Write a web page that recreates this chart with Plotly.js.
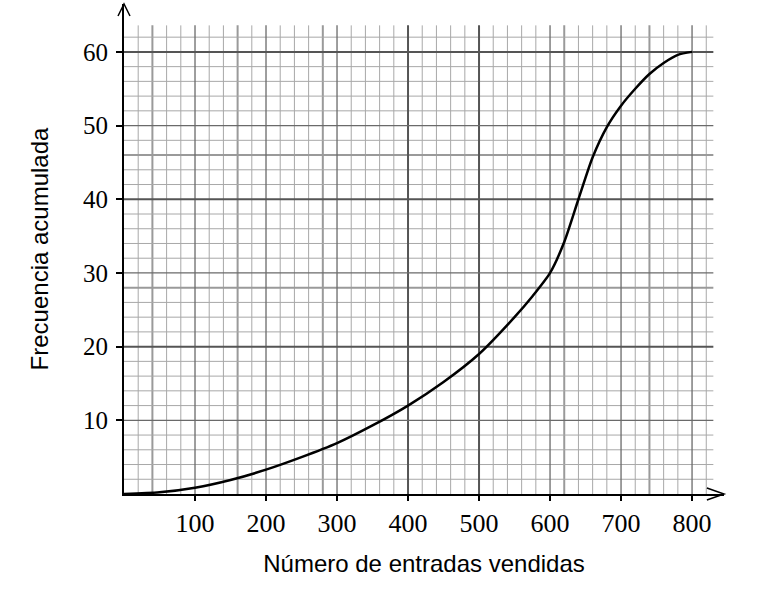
<!DOCTYPE html>
<html>
<head>
<meta charset="utf-8">
<script src="https://cdn.plot.ly/plotly-3.0.1.min.js"></script>
<style>html,body{margin:0;padding:0;background:#fff;}#chart{width:760px;height:590px;}</style>
</head>
<body>
<div id="chart"></div>
<script>
// Data
var entradas = [0, 50, 100, 150, 200, 250, 300, 350, 400, 450, 500, 550, 575, 600, 620, 640, 660, 680, 700, 720, 740, 760, 780, 800];
var frecuencia = [0, 0.23, 0.85, 1.9, 3.3, 5.0, 6.9, 9.3, 12, 15.2, 19, 24, 26.8, 30, 34.2, 40, 45.7, 49.8, 52.7, 55, 57, 58.5, 59.6, 60];
var xTickVals = [100, 200, 300, 400, 500, 600, 700, 800];
var xTickText = ['100', '200', '300', '400', '500', '600', '700', '800'];
var yTickVals = [10, 20, 30, 40, 50, 60];
var yTickText = ['10', '20', '30', '40', '50', '60'];

var xMax = 845, yMax = 66.5;
var gridXEnd = 830, gridYEnd = 63.6;
var marginL = 124, marginR = 36, marginT = 4, marginB = 96;
var plotW = 760 - marginL - marginR, plotH = 590 - marginT - marginB;

var shapes = [];
// minor grid
for (var gx = 20; gx < gridXEnd; gx += 20) {
  if (gx % 100 === 0) continue;
  var thick = [40, 160, 280, 620, 740].indexOf(gx) >= 0;
  shapes.push({type: 'line', xref: 'x', yref: 'y', x0: gx, x1: gx, y0: 0, y1: gridYEnd, layer: 'below',
    line: {color: thick ? '#9a9a9a' : '#a8a8a8', width: thick ? 2 : 1}});
}
for (var gy = 2; gy < gridYEnd; gy += 2) {
  if (gy % 10 === 0) continue;
  var thickY = [28, 46].indexOf(gy) >= 0;
  shapes.push({type: 'line', xref: 'x', yref: 'y', x0: 0, x1: gridXEnd, y0: gy, y1: gy, layer: 'below',
    line: {color: thickY ? '#9a9a9a' : '#a8a8a8', width: thickY ? 2 : 1}});
}
// major grid
xTickVals.forEach(function (v) {
  var strong = (v === 400 || v === 500);
  shapes.push({type: 'line', xref: 'x', yref: 'y', x0: v, x1: v, y0: 0, y1: gridYEnd, layer: 'below',
    line: {color: strong ? '#555' : '#6a6a6a', width: strong ? 2 : 1.3}});
});
yTickVals.forEach(function (v) {
  var strong = (v === 20 || v === 40 || v === 60);
  shapes.push({type: 'line', xref: 'x', yref: 'y', x0: 0, x1: gridXEnd, y0: v, y1: v, layer: 'below',
    line: {color: strong ? '#555' : '#6a6a6a', width: strong ? 2 : 1.3}});
});
// arrow heads (paper coords)
var ax = 9 / plotW, ay = 6 / plotH;
shapes.push({type: 'path', xref: 'paper', yref: 'paper',
  path: 'M ' + (1 - ax * 1.9) + ' ' + ay + ' L 1 0 L ' + (1 - ax * 1.9) + ' ' + (-ay),
  line: {color: 'black', width: 1.5}});
var bx = 6 / plotW, by = 12 / plotH;
shapes.push({type: 'path', xref: 'paper', yref: 'paper',
  path: 'M ' + (-bx) + ' ' + (1 - by) + ' L 0 1 L ' + bx + ' ' + (1 - by),
  line: {color: 'black', width: 1.5}});

var trace = {
  x: entradas, y: frecuencia, type: 'scatter', mode: 'lines',
  line: {color: 'black', width: 2.5, shape: 'spline', smoothing: 0.7},
  hoverinfo: 'x+y', showlegend: false, cliponaxis: false
};

var layout = {
  width: 760, height: 590,
  margin: {l: marginL, r: marginR, t: marginT, b: marginB},
  paper_bgcolor: 'white', plot_bgcolor: 'white',
  showlegend: false,
  xaxis: {
    range: [0, xMax], showgrid: false, zeroline: false,
    showline: true, linecolor: 'black', linewidth: 2,
    ticks: 'outside', ticklen: 5, tickwidth: 1.5, tickcolor: 'black',
    tickvals: xTickVals, ticktext: xTickText,
    tickfont: {family: 'Liberation Serif, Times New Roman, serif', size: 26, color: 'black'},
    title: {text: 'Número de entradas vendidas', standoff: 18,
      font: {family: 'Liberation Sans, Arial, sans-serif', size: 24, color: 'black'}},
    fixedrange: true
  },
  yaxis: {
    range: [0, yMax], showgrid: false, zeroline: false,
    showline: true, linecolor: 'black', linewidth: 2,
    ticks: 'outside', ticklen: 6, tickwidth: 2, tickcolor: 'black',
    ticklabelstandoff: 3,
    tickvals: yTickVals, ticktext: yTickText,
    tickfont: {family: 'Liberation Serif, Times New Roman, serif', size: 25, color: 'black'},
    title: {text: 'Frecuencia acumulada', standoff: 28,
      font: {family: 'Liberation Sans, Arial, sans-serif', size: 24, color: 'black'}},
    fixedrange: true
  },
  shapes: shapes
};

Plotly.newPlot('chart', [trace], layout, {displayModeBar: false, staticPlot: true});
</script>
</body>
</html>
